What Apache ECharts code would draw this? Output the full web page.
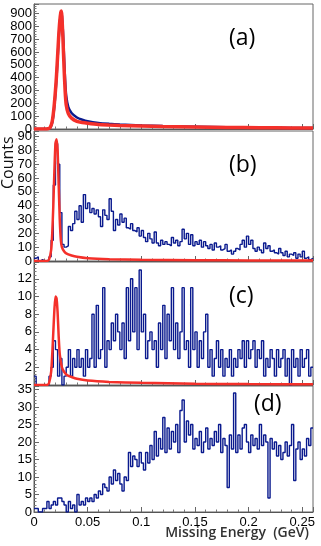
<!DOCTYPE html>
<html>
<head>
<meta charset="utf-8">
<title>Missing Energy</title>
<script src="https://cdn.jsdelivr.net/npm/echarts@6/dist/echarts.min.js"></script>
<style>
    html, body { margin: 0; padding: 0; background: #fff; }
    #chart { width: 321px; height: 546px; }
</style>
</head>
<body>
<div id="chart"></div>
<script>
    // bin width of the blue histograms (GeV), bins start at 0
    var binWidth = 0.002;
    var xMax = 0.26;

    // panel (a): both curves sampled at these energies
    var aEnergy = [0, 0.010, 0.013, 0.015, 0.017, 0.019, 0.021, 0.023, 0.024, 0.025, 0.0255, 0.026, 0.027, 0.028, 0.029, 0.030,
        0.032, 0.035, 0.040, 0.045, 0.050, 0.060, 0.070, 0.080, 0.100, 0.120, 0.150, 0.180, 0.210, 0.240, 0.260];
    var aBlue = [0, 0, 1, 8, 50, 180, 400, 700, 830, 890, 900, 880, 760, 560, 380, 260,
        170, 125, 90, 72, 60, 47, 40, 35, 28, 23, 18, 13, 11, 8, 7];
    var aRed = [0, 0, 2, 10, 60, 200, 420, 720, 840, 910, 920, 880, 700, 480, 300, 190,
        120, 85, 60, 50, 44, 35, 31, 28, 24, 20, 16, 12, 10, 8, 7];

    // panel (b)
    var bBlue = [2, 3, 0, 1, 0, 0, 1, 3, 15, 55, 85, 70, 35, 12, 10, 11, 25, 22, 27, 36,
        30, 40, 28, 48, 38, 42, 35, 38, 34, 37, 32, 25, 37, 33, 30, 45, 36, 22, 30, 26,
        34, 28, 31, 24, 23, 27, 22, 21, 24, 18, 22, 17, 14, 20, 16, 13, 21, 13, 11, 15,
        12, 14, 12, 11, 17, 13, 15, 11, 14, 23, 16, 20, 12, 19, 11, 14, 12, 15, 10, 14,
        11, 9, 12, 8, 13, 10, 11, 8, 9, 12, 7, 8, 5, 7, 9, 8, 12, 15, 10, 18,
        12, 15, 9, 7, 10, 8, 6, 13, 9, 11, 7, 8, 6, 5, 9, 6, 4, 7, 3, 5,
        4, 6, 2, 5, 3, 7, 2, 3, 1, 2];
    var bRedEnergy = [0, 0.012, 0.014, 0.016, 0.017, 0.018, 0.019, 0.020, 0.021, 0.022, 0.023, 0.024, 0.025, 0.026,
        0.028, 0.030, 0.035, 0.040, 0.050, 0.070, 0.100, 0.150, 0.200, 0.260];
    var bRed = [0, 0, 1, 8, 20, 40, 65, 85, 88, 80, 55, 30, 15, 10,
        7, 5.5, 4, 3, 2, 1.3, 0.9, 0.6, 0.4, 0.3];

    // panel (c)
    var cBlue = [1, 0, 0, 0, 0, 0, 0, 1, 2, 5, 4, 1, 3, 0, 1, 2, 4, 1, 3, 2,
        4, 2, 3, 1, 4, 2, 3, 8, 2, 9, 3, 4, 11, 2, 5, 4, 7, 5, 8, 6,
        4, 7, 3, 11, 5, 12, 6, 11, 4, 13, 6, 8, 3, 5, 6, 4, 5, 2, 7, 4,
        9, 3, 8, 5, 11, 4, 7, 3, 6, 11, 4, 5, 2, 11, 4, 6, 2, 5, 3, 6,
        8, 2, 4, 1, 3, 5, 2, 4, 1, 3, 2, 4, 1, 3, 2, 4, 3, 5, 2, 5,
        3, 4, 5, 2, 4, 3, 5, 1, 3, 2, 4, 3, 1, 4, 2, 3, 4, 1, 3, 0,
        4, 2, 3, 1, 4, 2, 3, 4, 1, 2];
    var cRedEnergy = [0, 0.012, 0.014, 0.016, 0.017, 0.018, 0.019, 0.020, 0.021, 0.022, 0.023, 0.024,
        0.026, 0.028, 0.031, 0.035, 0.040, 0.050, 0.070, 0.100, 0.150, 0.200, 0.260];
    var cRed = [0, 0, 0.2, 1.5, 3.5, 6, 8.5, 10, 9.8, 8.2, 5.5, 3.5,
        2, 1.5, 1.1, 0.9, 0.7, 0.5, 0.35, 0.25, 0.15, 0.1, 0.08];

    // panel (d)
    var dBlue = [1, 1, 0, 0, 1, 1, 3, 1, 2, 3, 2, 4, 4, 3, 2, 0, 3, 1, 2, 0,
        5, 2, 3, 2, 4, 3, 4, 3, 5, 4, 6, 5, 8, 7, 6, 10, 8, 12, 9, 11,
        8, 6, 10, 9, 17, 13, 16, 15, 13, 17, 14, 12, 17, 14, 19, 15, 23, 16, 21, 18,
        27, 17, 24, 18, 23, 20, 25, 17, 29, 32, 20, 26, 22, 25, 18, 21, 19, 23, 17, 20,
        24, 18, 21, 19, 23, 20, 25, 17, 21, 19, 7, 22, 18, 34, 17, 22, 18, 24, 25, 20,
        17, 22, 19, 21, 18, 25, 19, 22, 20, 4, 21, 18, 20, 16, 19, 15, 17, 20, 16, 19,
        25, 9, 18, 20, 15, 18, 16, 21, 19, 24];

    var panelNames = ['(a)', '(b)', '(c)', '(d)'];

    var blueColor = '#0a1a8e';
    var redColor = '#f4302a';
    var labelFont = 'Liberation Sans';

    // histogram -> [lowEdge, value] pairs for a step line
    function histData(values) {
        var out = [];
        for (var i = 0; i < values.length; i++) {
            out.push([i * binWidth, values[i]]);
        }
        out.push([xMax, values[values.length - 1]]);
        return out;
    }

    function pairData(xs, ys) {
        var out = [];
        for (var i = 0; i < xs.length; i++) {
            out.push([xs[i], ys[i]]);
        }
        return out;
    }

    function $each(arr, fn) {
        for (var i = 0; i < arr.length; i++) fn(arr[i], i);
    }

    // grid positions (top, height) and y ranges of the four stacked panels
    var grids = [
        {top: 4, height: 125, max: 975, interval: 100},
        {top: 131, height: 130, max: 94, interval: 10},
        {top: 262, height: 123, max: 13.9, interval: 2, hideZero: true},
        {top: 386, height: 126, max: 36, interval: 5}
    ];

    var option = {
        animation: false,
        backgroundColor: '#fff',
        grid: [],
        xAxis: [],
        yAxis: [],
        series: [],
        graphic: []
    };

    $each(grids, function (g, i) {
        option.grid.push({
            left: 34, right: 8, top: g.top, height: g.height,
            show: true, borderColor: '#666', borderWidth: 1, backgroundColor: 'transparent'
        });
        option.xAxis.push({
            type: 'value', gridIndex: i, min: 0, max: xMax, interval: 0.05,
            axisLine: {show: true, onZero: false, lineStyle: {color: '#555', width: 1}},
            axisTick: {show: true, inside: true, length: 5, lineStyle: {color: '#666'}},
            minorTick: {show: true, splitNumber: 5, length: 2.5, lineStyle: {color: '#777'}},
            splitLine: {show: false},
            axisLabel: {
                show: i === 3, showMaxLabel: false, margin: 4,
                color: '#000', fontFamily: labelFont, fontSize: 13
            }
        });
        option.yAxis.push({
            type: 'value', gridIndex: i, min: 0, max: g.max, interval: g.interval,
            axisLine: {show: true, lineStyle: {color: '#555', width: 1}},
            axisTick: {show: true, inside: true, length: 5, lineStyle: {color: '#666'}},
            minorTick: {show: true, splitNumber: 5, length: 2.5, lineStyle: {color: '#777'}},
            splitLine: {show: false},
            axisLabel: {
                showMaxLabel: false, showMinLabel: !g.hideZero, margin: 2,
                padding: [0, 0, 4, 0],
                color: '#000', fontFamily: labelFont, fontSize: 13
            }
        });
        option.graphic.push({
            type: 'text', left: i === 3 ? 254 : 229, top: g.top + (i === 3 ? 7 : 23),
            style: {text: panelNames[i], font: '23px "Open Sans"', fill: '#000'}
        });
    });

    function stepSeries(idx, values) {
        return {
            type: 'line', xAxisIndex: idx, yAxisIndex: idx, step: 'end', symbol: 'none',
            data: histData(values), lineStyle: {color: blueColor, width: 1.4}, z: 3
        };
    }

    function curveSeries(idx, xs, ys, color, width) {
        return {
            type: 'line', xAxisIndex: idx, yAxisIndex: idx, symbol: 'none', smooth: 0.2,
            data: pairData(xs, ys), lineStyle: {color: color, width: width}, z: 4
        };
    }

    option.series.push(curveSeries(0, aEnergy, aBlue, blueColor, 2.5));
    option.series.push(curveSeries(0, aEnergy, aRed, redColor, 3.5));
    option.series.push(stepSeries(1, bBlue));
    option.series.push(curveSeries(1, bRedEnergy, bRed, redColor, 2.5));
    option.series.push(stepSeries(2, cBlue));
    option.series.push(curveSeries(2, cRedEnergy, cRed, redColor, 2.5));
    option.series.push(stepSeries(3, dBlue));

    // axis titles
    option.graphic.push({
        type: 'text', x: 0, y: 189, rotation: Math.PI / 2,
        style: {text: 'Counts', font: '16px "Open Sans"', fill: '#111'}
    });
    option.graphic.push({
        type: 'text', right: 12, top: 526,
        style: {text: 'Missing Energy  (GeV)', font: '600 14px "Open Sans"', fill: '#333'}
    });

    var chart = echarts.init(document.getElementById('chart'), null, {renderer: 'canvas'});
    chart.setOption(option);
</script>
</body>
</html>
